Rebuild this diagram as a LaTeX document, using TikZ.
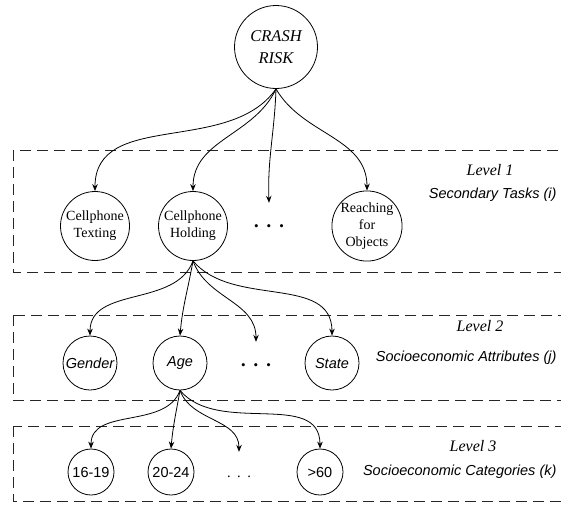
\documentclass[tikz,border=0pt]{standalone}
\usepackage{fontspec}
\setmainfont{Liberation Serif}
\setsansfont{Liberation Sans}
\usetikzlibrary{arrows.meta,positioning}
\tikzset{
    %Define standard arrow tip
    >={Stealth[length=7pt,width=5.5pt]},
    %Define style for the circles
    risk/.style={
           circle,
           draw=black, line width=0.8pt,
           minimum size=83pt,
           inner sep=0pt,
           align=center,
           font=\itshape\fontsize{16.5}{22}\selectfont},
    task/.style={
           circle,
           draw=black, line width=0.8pt,
           minimum size=69pt,
           inner sep=0pt,
           align=center,
           font=\fontsize{14}{16.8}\selectfont},
    attr/.style={
           circle,
           draw=black, line width=0.8pt,
           minimum size=54pt,
           inner sep=0pt,
           font=\sffamily\itshape\fontsize{14.5}{17}\selectfont},
    categ/.style={
           circle,
           draw=black, line width=0.8pt,
           minimum size=46pt,
           inner sep=0pt,
           font=\sffamily\fontsize{14.5}{17}\selectfont},
    more/.style={
           minimum height=50pt,
           inner sep=0pt},
    % Define style for level boxes
    levelbox/.style={
           draw=black!85,
           line width=0.9pt,
           dash pattern=on 11pt off 6pt},
    % Define style for level labels
    lvl/.style={font=\itshape\fontsize{16}{19}\selectfont},
    lvldesc/.style={anchor=east, font=\sffamily\itshape\fontsize{14.5}{17}\selectfont},
    % Define arrow style
    pil/.style={
           ->,
           line width=0.8pt}
}

\begin{document}
\begin{tikzpicture}[x=1pt,y=-1pt,on grid]
\useasboundingbox (0,0) rectangle (561,504);
\clip (0,0) rectangle (561,504);
% level boxes
\draw[levelbox] (13,150) rectangle (580,272);
\draw[levelbox] (13,315) rectangle (580,400);
\draw[levelbox] (13,426) rectangle (580,501);
\node[lvl] (l1) at (490,170) {Level 1};
\node[lvldesc] (d1) at (560,195) {Secondary Tasks (i)};
\node[lvl] (l2) at (480,326) {Level 2};
\node[lvldesc] (d2) at (560,358) {Socioeconomic Attributes (j)};
\node[lvl] (l3) at (473,446) {Level 3};
\node[lvldesc] (d3) at (560,472) {Socioeconomic Categories (k)};
% root
\node[risk] (risk) at (276,47) {CRASH\\RISK};
% level 1
\node[task] (texting) at (95,226) {Cellphone\\Texting};
\node[task, right=98pt of texting] (holding) {Cellphone\\Holding};
\node[more, right=76pt of holding, yshift=-2pt] (dotsA) {\fontsize{13}{15}\selectfont\textbullet\hspace{8pt}\textbullet\hspace{8pt}\textbullet};
\node[task, right=174pt of holding] (reaching) {Reaching\\for\\Objects};
% level 2
\node[attr] (gender) at (90,363) {Gender};
\node[attr, right=90pt of gender] (age) {Age};
\node[more, right=76pt of age, yshift=-4pt] (dotsB) {\fontsize{13}{15}\selectfont\textbullet\hspace{8pt}\textbullet\hspace{8pt}\textbullet};
\node[attr, right=152pt of age] (state) {State};
% level 3
\node[categ] (cat1) at (91,472) {16-19};
\node[categ, right=80pt of cat1] (cat2) {20-24};
\node[more, right=68pt of cat2, yshift=-5pt] (dotsC) {\fontsize{14.5}{17}\selectfont.\hspace{6.5pt}.\hspace{6.5pt}.};
\node[categ, right=149pt of cat2] (cat4) {>60};
\path[pil]
	(risk.south) edge[out=-125,in=90] (texting.north)
	(risk.south) edge[out=-115,in=90] (holding.north)
	(risk.south) edge[out=-92,in=92] (dotsA.north)
	(risk.south) edge[out=-60,in=90] (reaching.north)
	(holding.south) edge[out=-110,in=90] (gender.north)
	(holding.south) edge[out=-100,in=85] (age.north)
	(holding.south) edge[out=-70,in=90] (dotsB.north)
	(holding.south) edge[out=-50,in=90] (state.north)
	(age.south) edge[out=-110,in=90] (cat1.north)
	(age.south) edge[out=-100,in=85] (cat2.north)
	(age.south) edge[out=-70,in=90] (dotsC.north)
	(age.south) edge[out=-50,in=90] (cat4.north);
\end{tikzpicture}
\end{document}
